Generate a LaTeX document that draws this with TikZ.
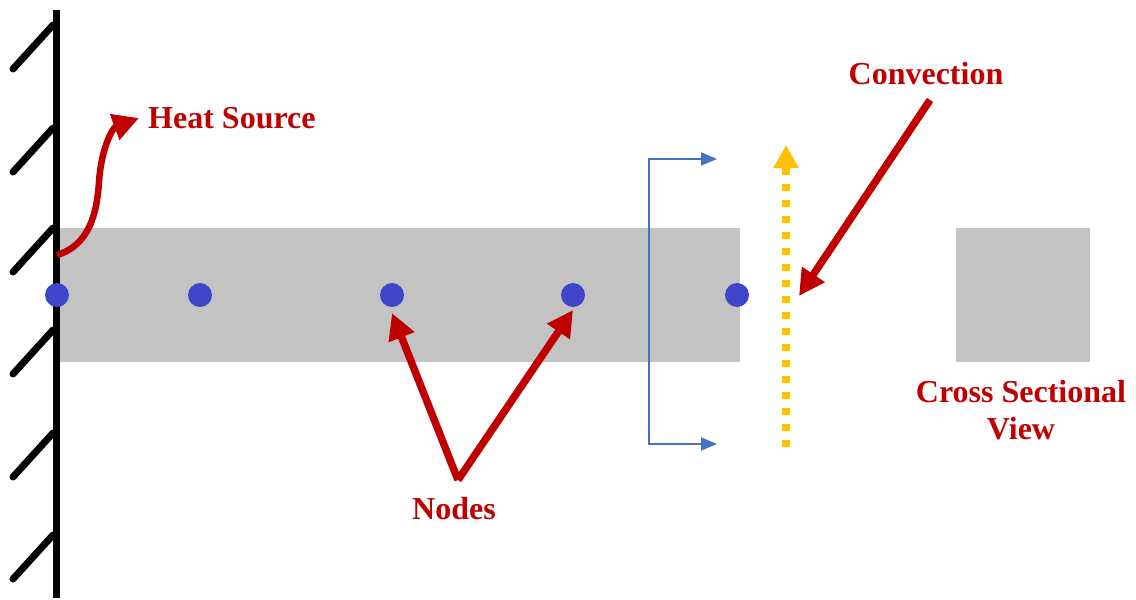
\documentclass[tikz,border=0pt]{standalone}
\usepackage{fontspec}
\setmainfont{Liberation Serif}
\usetikzlibrary{arrows.meta}
\definecolor{barGray}{HTML}{C3C3C3}
\definecolor{dotBlue}{HTML}{4046CC}
\definecolor{darkRed}{HTML}{C00000}
\definecolor{bracketBlue}{HTML}{4472C4}
\definecolor{amber}{HTML}{FFC000}
\begin{document}
\begin{tikzpicture}[x=1pt,y=-1pt,
  lbl/.style={text=darkRed,font=\fontsize{32}{37}\selectfont\bfseries,inner sep=0pt,align=center},
  dot/.style={circle,fill=dotBlue,minimum size=24pt,inner sep=0pt},
  redarrow/.style={draw=darkRed,line width=7.5pt,-{Triangle[length=26pt,width=26pt]}},
  wall/.style={line width=7pt},
  hatch/.style={line width=7pt,line cap=round},
  bracket/.style={draw=bracketBlue,line width=2pt,{Triangle[length=16pt,width=13pt]}-{Triangle[length=16pt,width=13pt]}},
  flow/.style={draw=amber,line width=7.5pt,dash pattern=on 7.5pt off 8.5pt,-{Triangle[length=23pt,width=24pt]}},
  section/.style={fill=barGray}
]
\useasboundingbox (0,0) rectangle (1136,600);

% rod and its cross section
\fill[section] (57,228) rectangle (740,362);
\fill[section] (956,228) rectangle (1090,362);

% fixed wall with hatching
\draw[wall] (56,10) -- (56,598);
\foreach \y in {25,128,228,330,433,535}
  \draw[hatch] (53,\y) -- (13,\y+44);

% cutting-plane bracket
\coordinate (bt) at (717,159);
\coordinate (bb) at (717,444);
\draw[bracket] (bt) -- (649,159) -- (649,444) -- (bb);

% convection flow along the free end
\coordinate (fb) at (786,447);
\coordinate (ft) at (786,145);
\draw[flow] (fb) -- (ft);

% discretisation nodes
\node[dot] (n1) at (57,295) {};
\node[dot] (n2) at (200,295) {};
\node[dot] (n3) at (392,295) {};
\node[dot] (n4) at (573,295) {};
\node[dot] (n5) at (737,295) {};

% labels
\node[lbl,anchor=west] (heat) at (148,118) {Heat Source};
\node[lbl] (conv) at (926,74) {Convection};
\node[lbl] (nodes) at (454,509) {Nodes};
\node[lbl] (cross) at (1021,410) {Cross Sectional\\View};

% heat source arrow
\coordinate (hs) at (57,255);
\draw[redarrow,line width=6.5pt] (hs) .. controls (90,245) and (97,212) .. (99,182)
  .. controls (101,150) and (112,128) .. ([xshift=-9pt]heat.west);

% convection pointer
\coordinate (cs) at (930,100);
\coordinate (ce) at (799,296);
\draw[redarrow] (cs) -- (ce);

% node pointers
\coordinate (ns) at (458,480);
\draw[redarrow] (ns) -- ([yshift=-18pt]n3.center);
\draw[redarrow] (ns) -- ([yshift=-15pt]n4.center);
\end{tikzpicture}
\end{document}
